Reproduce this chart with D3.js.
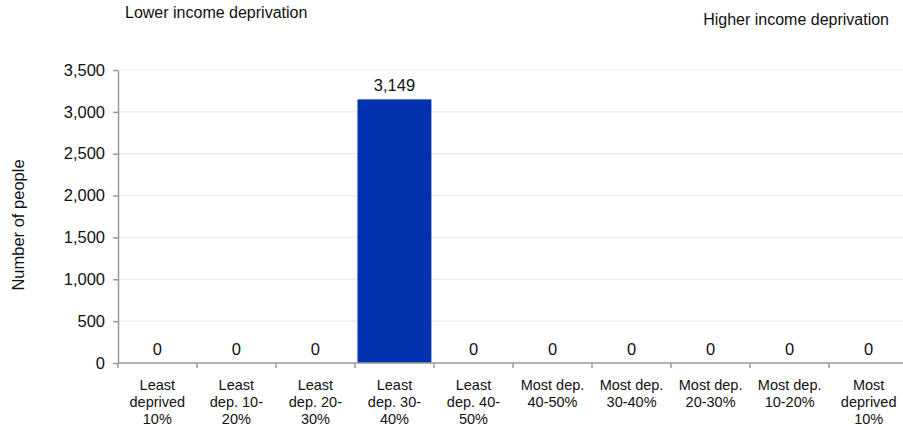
<!DOCTYPE html>
<html><head><meta charset="utf-8">
<script src="https://cdn.jsdelivr.net/npm/d3@7"></script>
<style>body{margin:0;background:#fff;} svg{display:block;font-family:"Liberation Sans",Arial,sans-serif;}</style>
</head><body>
<svg id="c" width="903" height="430"></svg>
<script>
const categories = [
  ["Least","deprived","10%"],["Least","dep. 10-","20%"],["Least","dep. 20-","30%"],["Least","dep. 30-","40%"],["Least","dep. 40-","50%"],
  ["Most dep.","40-50%"],["Most dep.","30-40%"],["Most dep.","20-30%"],["Most dep.","10-20%"],["Most","deprived","10%"]
];
const values = [0,0,0,3149,0,0,0,0,0,0];
const yTicks = [0,500,1000,1500,2000,2500,3000,3500];

const svg = d3.select("#c");
const keys = categories.map((c,i)=>i);
const x = d3.scaleBand().domain(keys).range([118,908]).paddingInner(0.065).paddingOuter(0.03);
const y = d3.scaleLinear().domain([0,3500]).range([363,70]);

// gridlines
svg.append("g").selectAll("line").data(yTicks.slice(1)).join("line")
  .attr("x1",118).attr("x2",903).attr("y1",d=>y(d)).attr("y2",d=>y(d))
  .attr("stroke","#ebebeb").attr("stroke-width",1.2);

// bars
svg.append("g").selectAll("rect").data(values).join("rect")
  .attr("x",(d,i)=>x(i)).attr("width",x.bandwidth())
  .attr("y",d=>y(d)).attr("height",d=>y(0)-y(d)).attr("fill","#0232b0");

// value labels
svg.append("g").selectAll("text").data(values).join("text")
  .attr("x",(d,i)=>x(i)+x.bandwidth()/2).attr("y",d=>y(d)-8)
  .attr("text-anchor","middle").attr("font-size",16.5).attr("fill","#111")
  .text(d=>d3.format(",")(d));

// y axis
const ya = svg.append("g").attr("transform","translate(118,0)")
  .call(d3.axisLeft(y).tickValues(yTicks).tickFormat(d3.format(",")).tickSize(5).tickSizeOuter(0));
ya.select(".domain").attr("stroke","#999").attr("stroke-width",1.5);
ya.selectAll(".tick line").attr("stroke","#999").attr("stroke-width",1.5);
ya.selectAll("text").attr("font-size",16.5).attr("fill","#111").attr("font-family","Liberation Sans, Arial, sans-serif").attr("x",-13);

// x axis
const xa = svg.append("g").attr("transform","translate(0,363)");
xa.append("line").attr("x1",118).attr("x2",903).attr("y1",0).attr("y2",0).attr("stroke","#999").attr("stroke-width",1.5);
const tickPos = d3.range(categories.length+1).map(i=>118+i*((908-118)/categories.length));
xa.selectAll("line.t").data(tickPos).join("line").attr("class","t")
  .attr("x1",d=>d).attr("x2",d=>d).attr("y1",0).attr("y2",5).attr("stroke","#999").attr("stroke-width",1.5);
const xl = xa.selectAll("text.c").data(categories).join("text").attr("class","c")
  .attr("text-anchor","middle").attr("font-size",14.5).attr("fill","#111");
xl.each(function(lines,i){
  const t = d3.select(this);
  lines.forEach((ln,j)=>t.append("tspan").attr("x",x(i)+x.bandwidth()/2).attr("y",27+j*17).text(ln));
});

// y axis title
svg.append("text").attr("transform","translate(24,225) rotate(-90)")
  .attr("text-anchor","middle").attr("font-size",16.5).attr("fill","#111").text("Number of people");

// annotations
svg.append("text").attr("x",125).attr("y",18).attr("font-size",16).attr("fill","#111").text("Lower income deprivation");
svg.append("text").attr("x",889).attr("y",25).attr("text-anchor","end").attr("font-size",16).attr("fill","#111").text("Higher income deprivation");
</script>
</body></html>
